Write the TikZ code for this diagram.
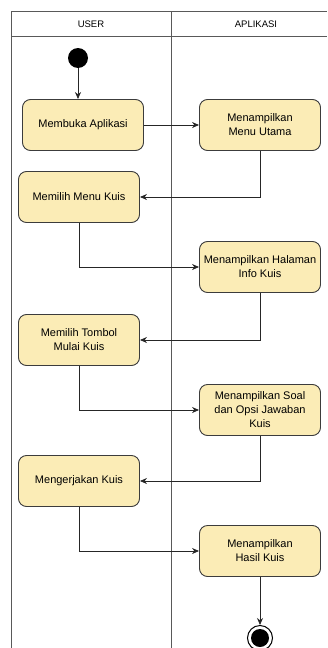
\documentclass[tikz,border=0pt]{standalone}
\usepackage{fontspec}
\setmainfont{Liberation Sans}
\usepackage{xcolor}
\usepackage{tikz}
\usetikzlibrary{arrows.meta,positioning,calc}
\definecolor{actfill}{HTML}{FBECB6}
\definecolor{actline}{HTML}{3C3C3C}

\begin{document}
\begin{tikzpicture}[x=1pt, y=-1pt,
    act/.style={draw=actline, rounded corners=8pt, minimum width=121pt, minimum height=51pt, align=center, fill=actfill, inner sep=1pt, line width=0.9pt, font=\fontsize{11}{14}\selectfont},
    lane/.style={draw=black!65, line width=0.8pt},
    arr/.style={-{Stealth[length=7pt, width=6pt]}, line width=0.8pt, draw=black!85},
]
    \useasboundingbox (0,0) rectangle (327,648);

    % Swimlanes
    \draw[lane] (11,648) -- (11,11) -- (327,11);
    \draw[lane] (11,36) -- (327,36);
    \draw[lane] (171,11) -- (171,648);
    \node[font=\fontsize{9.5}{11}\selectfont] (user) at (91,24) {USER};
    \node[font=\fontsize{9.5}{11}\selectfont] (aplikasi) at (256,24) {APLIKASI};

    % Start
    \node[circle, fill=black, minimum size=20pt, inner sep=0pt] (start) at (78,58) {};

    % User lane
    \node[act] (buka) at (83,125) {Membuka Aplikasi};
    \node[act] (pilihmenu) at (79,197) {Memilih Menu Kuis};
    \node[act] (tombol) at (79,340) {Memilih Tombol\\Mulai Kuis};
    \node[act] (kerjakan) at (79,481) {Mengerjakan Kuis};

    % Aplikasi lane
    \node[act] (menuutama) at (260,125) {Menampilkan\\Menu Utama};
    \node[act] (info) at (260,267) {Menampilkan Halaman\\Info Kuis};
    \node[act] (soal) at (260,410) {Menampilkan Soal\\dan Opsi Jawaban\\Kuis};
    \node[act] (hasil) at (260,551) {Menampilkan\\Hasil Kuis};

    % End
    \node[circle, draw=black, line width=1pt, minimum size=25pt, inner sep=0pt] (finish) at (260,638) {};
    \node[circle, fill=black, minimum size=18pt, inner sep=0pt] (finishdot) at (finish) {};

    % Arrows
    \draw[arr] (start) -- (start |- buka.north);
    \draw[arr] (buka) -- (menuutama);
    \draw[arr] (menuutama.south) |- (pilihmenu.east);
    \draw[arr] (pilihmenu.south) |- (info.west);
    \draw[arr] (info.south) |- (tombol.east);
    \draw[arr] (tombol.south) |- (soal.west);
    \draw[arr] (soal.south) |- (kerjakan.east);
    \draw[arr] (kerjakan.south) |- (hasil.west);
    \draw[arr] (hasil) -- (finish);
\end{tikzpicture}
\end{document}
